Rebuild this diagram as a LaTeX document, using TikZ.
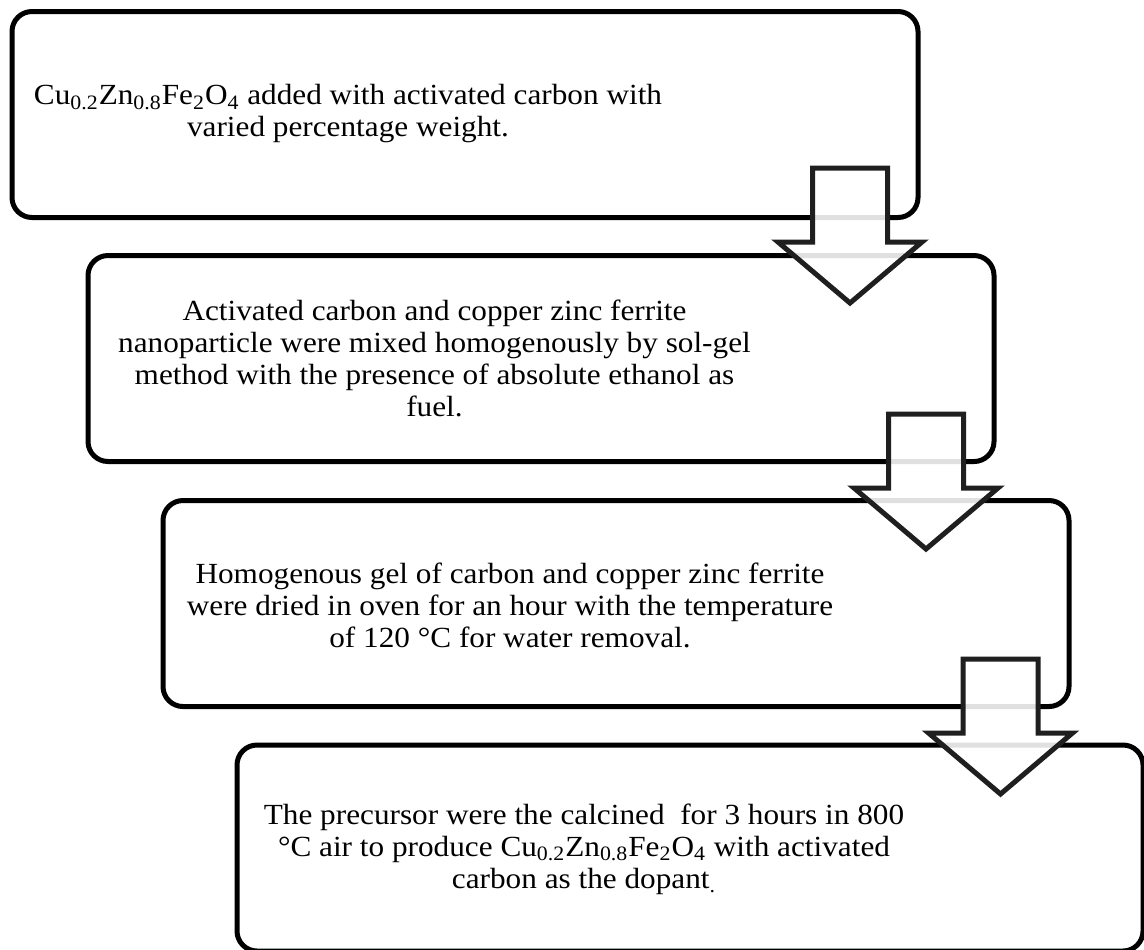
\documentclass[tikz,border=0pt]{standalone}
\usepackage{fontspec}
\setmainfont{Liberation Serif}[FakeStretch=1.07]
\tikzset{
	stepbox/.style={draw=black, line width=2.5pt, rounded corners=10pt, fill=white, minimum width=453pt, minimum height=103pt, inner sep=0pt},
	steptext/.style={align=center, inner sep=0pt, font=\fontsize{14.6pt}{16pt}\selectfont},
	pics/downarrow/.style={code={
		\draw[line width=2.5pt, draw=black!88, fill=white, fill opacity=0.88, line join=miter]
			(-37.5,0) -- (37.5,0) -- (37.5,74) -- (72,74) -- (0,135) -- (-72,74) -- (-37.5,74) -- cycle;
	}}
}
\newcommand{\cuznfe}{Cu\textsubscript{0.2}Zn\textsubscript{0.8}Fe\textsubscript{2}O\textsubscript{4}}
\begin{document}
\begin{tikzpicture}[x=0.5pt, y=-0.5pt]
					\useasboundingbox (0,0) rectangle (1144,949);
					\node (box1) at (465,114.5) [stepbox] {};
					\node (box2) at (541,358.5) [stepbox] {};
					\node (box3) at (616,603.5) [stepbox] {};
					\node (box4) at (690,848) [stepbox] {};
					
					\pic (arrow1) at (850,168) {downarrow};
					\pic (arrow2) at (926,414) {downarrow};
					\pic (arrow3) at (1000.5,659) {downarrow};
					
					\node (text1) at (348,114) [steptext] {\cuznfe{} added with activated carbon with\\ varied percentage weight.};
					\node (text2) at (434.5,358) [steptext] {Activated carbon and copper zinc ferrite\\ nanoparticle were mixed homogenously by sol-gel\\ method with the presence of absolute ethanol as\\ fuel.};
					\node (text3) at (510,605) [steptext] {Homogenous gel of carbon and copper zinc ferrite\\ were dried in oven for an hour with the temperature\\ of 120 °C for water removal.};
					\node (text4) at (584,849) [steptext] {The precursor were the calcined\ \ for 3 hours in 800\\ °C air to produce \cuznfe{} with activated\\ carbon as the dopant\textsubscript{.}};
					
				\end{tikzpicture}
\end{document}
